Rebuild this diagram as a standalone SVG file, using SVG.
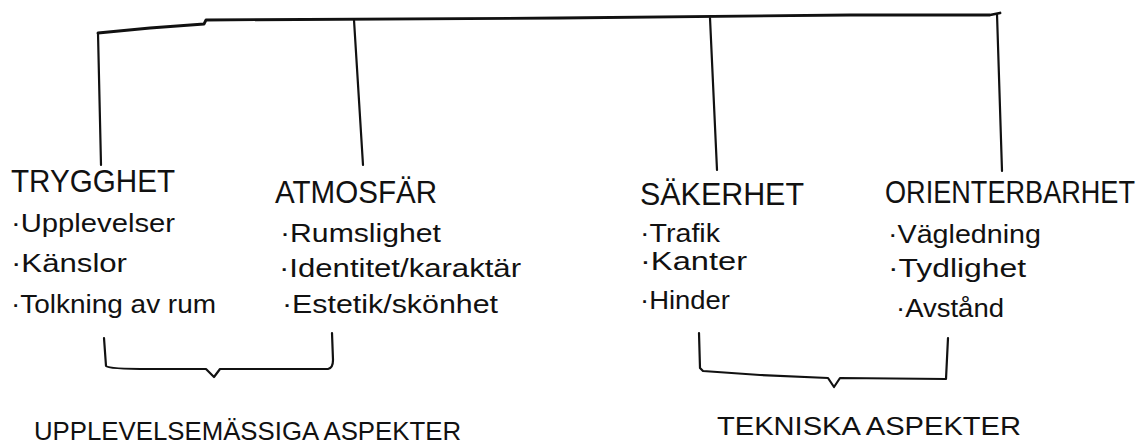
<svg xmlns="http://www.w3.org/2000/svg" width="1145" height="443" viewBox="0 0 1145 443">
<style>
.bg{fill:#ffffff}
.ln{fill:none;stroke:#111;stroke-width:2.2;stroke-linecap:round;stroke-linejoin:round}
.h{font-family:"Liberation Sans",Arial,sans-serif;font-size:32px;fill:#111}
.i{font-family:"Liberation Sans",Arial,sans-serif;font-size:25px;fill:#111}
.g{font-family:"Liberation Sans",Arial,sans-serif;font-size:25px;fill:#111}
</style>
<rect class="bg" x="0" y="0" width="1145" height="443"/>
<g id="connectors">
<path class="ln" d="M98,33 L150,28 L204,24 L206,20 L560,18 L850,15 L990,15 L1000,13" style="stroke-width:2.8"/>
<path class="ln" d="M98,33 L101,165"/>
<path class="ln" d="M354,20 L363,165"/>
<path class="ln" d="M710,18 L717,170"/>
<path class="ln" d="M997,14 L1002,171"/>
<path class="ln" d="M104,338 L106,366 Q108,369 150,369 L206,369 L214,377 L220,369 L328,369 Q333,368 333,360 L332,333"/>
<path class="ln" d="M699,333 L700,368 L703,371 L760,375 L828,378 L834,387 L840,378 L946,379 L948,338"/>
</g>
<g id="trygghet">
<text class="h" x="11" y="192" textLength="164" lengthAdjust="spacingAndGlyphs">TRYGGHET</text>
<text class="i" x="11" y="232" textLength="164" lengthAdjust="spacingAndGlyphs">·Upplevelser</text>
<text class="i" x="11" y="272" textLength="116" lengthAdjust="spacingAndGlyphs">·Känslor</text>
<text class="i" x="11" y="313" textLength="205" lengthAdjust="spacingAndGlyphs">·Tolkning av rum</text>
</g>
<g id="atmosfar">
<text class="h" x="275" y="203" textLength="162" lengthAdjust="spacingAndGlyphs">ATMOSFÄR</text>
<text class="i" x="280" y="242" textLength="161" lengthAdjust="spacingAndGlyphs">·Rumslighet</text>
<text class="i" x="279" y="277" textLength="242" lengthAdjust="spacingAndGlyphs">·Identitet/karaktär</text>
<text class="i" x="282" y="313" textLength="216" lengthAdjust="spacingAndGlyphs">·Estetik/skönhet</text>
</g>
<g id="sakerhet">
<text class="h" x="640" y="205" textLength="164" lengthAdjust="spacingAndGlyphs">SÄKERHET</text>
<text class="i" x="640" y="242" textLength="80" lengthAdjust="spacingAndGlyphs">·Trafik</text>
<text class="i" x="640" y="270" textLength="107" lengthAdjust="spacingAndGlyphs">·Kanter</text>
<text class="i" x="640" y="309" textLength="90" lengthAdjust="spacingAndGlyphs">·Hinder</text>
</g>
<g id="orienterbarhet">
<text class="h" transform="translate(885,203) scale(1,1.2)" x="0" y="0" style="font-size:26.5px" textLength="250" lengthAdjust="spacingAndGlyphs">ORIENTERBARHET</text>
<text class="i" x="888" y="243" textLength="153" lengthAdjust="spacingAndGlyphs">·Vägledning</text>
<text class="i" x="888" y="277" textLength="138" lengthAdjust="spacingAndGlyphs">·Tydlighet</text>
<text class="i" x="896" y="317" textLength="108" lengthAdjust="spacingAndGlyphs">·Avstånd</text>
</g>
<g id="upplevelse">
<text class="g" x="34" y="440" textLength="427" lengthAdjust="spacingAndGlyphs">UPPLEVELSEMÄSSIGA ASPEKTER</text>
</g>
<g id="tekniska">
<text class="g" x="717" y="435" textLength="304" lengthAdjust="spacingAndGlyphs">TEKNISKA ASPEKTER</text>
</g>
</svg>
